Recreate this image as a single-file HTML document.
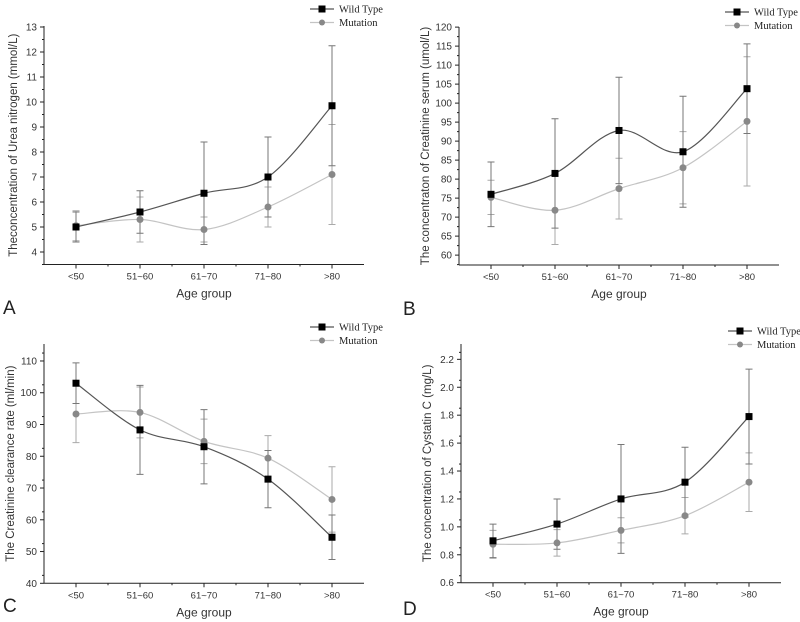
<!DOCTYPE html>
<html><head><meta charset="utf-8"><style>
html,body{margin:0;padding:0;background:#fff;}
svg{display:block;font-family:"Liberation Sans",sans-serif;}
</style></head><body>
<svg id="chart" width="800" height="622" viewBox="0 0 800 622"></svg>
<script>
const categories = ["<50","51~60","61~70","71~80",">80"];
// Panel A - Urea nitrogen
const aWild = [5.0,5.6,6.35,7.0,9.85];
const aWildErr = [0.6,0.85,2.05,1.6,2.4];
const aMut = [5.05,5.3,4.9,5.8,7.1];
const aMutErr = [0.6,0.9,0.5,0.8,2.0];
const aTicks = [4,5,6,7,8,9,10,11,12,13];
// Panel B - Creatinine serum
const bWild = [76,81.5,92.8,87.2,103.8];
const bWildErr = [8.5,14.4,14,14.6,11.8];
const bMut = [75.2,71.8,77.5,83,95.2];
const bMutErr = [4.5,9,8,9.5,17];
const bTicks = [60,65,70,75,80,85,90,95,100,105,110,115,120];
// Panel C - Creatinine clearance
const cWild = [103,88.3,83,72.8,54.5];
const cWildErr = [6.4,14,11.7,9,7];
const cMut = [93.3,93.8,84.7,79.4,66.4];
const cMutErr = [9,8,7,7.1,10.3];
const cTicks = [40,50,60,70,80,90,100,110];
// Panel D - Cystatin C
const dWild = [0.9,1.02,1.2,1.32,1.79];
const dWildErr = [0.12,0.18,0.39,0.25,0.34];
const dMut = [0.875,0.885,0.975,1.08,1.32];
const dMutErr = [0.1,0.095,0.09,0.13,0.21];
const dTicks = [0.6,0.8,1.0,1.2,1.4,1.6,1.8,2.0,2.2];

const NS="http://www.w3.org/2000/svg";
const svg=document.getElementById('chart');
function mk(tag,attrs,parent,txt){const e=document.createElementNS(NS,tag);for(const k in attrs)e.setAttribute(k,attrs[k]);if(txt!==undefined)e.textContent=txt;(parent||svg).appendChild(e);return e;}

function spline(pts){
  let d=`M${pts[0][0]},${pts[0][1]}`;
  for(let i=0;i<pts.length-1;i++){
    const p0=pts[Math.max(0,i-1)],p1=pts[i],p2=pts[i+1],p3=pts[Math.min(pts.length-1,i+2)];
    const c1x=p1[0]+(p2[0]-p0[0])/6,c1y=p1[1]+(p2[1]-p0[1])/6;
    const c2x=p2[0]-(p3[0]-p1[0])/6,c2y=p2[1]-(p3[1]-p1[1])/6;
    d+=` C${c1x},${c1y} ${c2x},${c2y} ${p2[0]},${p2[1]}`;
  }
  return d;
}

function panel(o){
  const g=mk('g',{});
  
  
  const x0=o.ax, x1=o.ax+320;
  const xs=i=>x0+32+64*i;
  const ys=v=>o.yBot-(v-o.vMin)*o.ppu;
  // axes
  const ya=mk('line',{x1:x0,y1:o.yTop,x2:x0,y2:o.yBot,stroke:'#222','stroke-width':1},g);
  
  const xa=mk('line',{x1:x0,y1:o.yBot,x2:x1,y2:o.yBot,stroke:'#222','stroke-width':1},g);
  
  o.ticks.forEach(t=>{
    const y=ys(t);
    mk('line',{x1:x0-4,y1:y,x2:x0,y2:y,stroke:'#222'},g);
    const lb=mk('text',{x:x0-7,y:y+3.5,'font-size':10,'text-anchor':'end',fill:'#333'},g,o.fmt?o.fmt(t):t);
    
  });
  // minor y ticks
  for(let k=0;k<o.ticks.length;k++){const m=o.ticks[k]+o.step/2;if(ys(m)>=o.yTop)mk('line',{x1:x0-2,y1:ys(m),x2:x0,y2:ys(m),stroke:'#222'},g);}
  if(ys(o.ticks[0]-o.step/2)<=o.yBot) mk('line',{x1:x0-2,y1:ys(o.ticks[0]-o.step/2),x2:x0,y2:ys(o.ticks[0]-o.step/2),stroke:'#222'},g);
  categories.forEach((c,i)=>{
    mk('line',{x1:xs(i),y1:o.yBot,x2:xs(i),y2:o.yBot+4,stroke:'#222'},g);
    if(i<4) mk('line',{x1:xs(i)+32,y1:o.yBot,x2:xs(i)+32,y2:o.yBot+2,stroke:'#222'},g);
    const lb=mk('text',{x:xs(i),y:o.yBot+15,'font-size':9.5,'text-anchor':'middle',fill:'#333'},g,c);
    
  });
  const xt=mk('text',{x:x0+160,y:o.yBot+33,'font-size':12,'text-anchor':'middle',fill:'#333'},g,'Age group');
  
  const cy=(o.yTop+o.yBot)/2;
  const yt=mk('text',{x:0,y:0,'font-size':11.5,'text-anchor':'middle',fill:'#333',transform:`translate(${o.ylx},${cy}) rotate(-90)`},g,o.ylabel);
  
  const pl=mk('text',{x:o.lx,y:o.ly,'font-size':19,fill:'#222'},g,o.letter);
  
  // series
  const series=[{v:o.mut,e:o.mutE,line:'#c4c4c4',mark:'#888',kind:'c',nm:'mutation'},{v:o.wild,e:o.wildE,line:'#555',mark:'#000',kind:'s',nm:'wild-type'}];
  series.forEach(s=>{
    s.v.forEach((v,i)=>{
      const x=xs(i),yh=ys(v+s.e[i]),yl=ys(v-s.e[i]);
      const eb=mk('path',{d:`M${x},${yh}V${yl}M${x-3.5},${yh}H${x+3.5}M${x-3.5},${yl}H${x+3.5}`,stroke:s.kind==='s'?'#777':'#aaa','stroke-width':1,fill:'none'},g);
      
    });
  });
  series.forEach(s=>{
    const pts=s.v.map((v,i)=>[xs(i),ys(v)]);
    const ln=mk('path',{d:spline(pts),stroke:s.line,'stroke-width':1.2,fill:'none'},g);
    
    pts.forEach(p=>{
      let m;
      if(s.kind==='s') m=mk('rect',{x:p[0]-3.5,y:p[1]-3.5,width:7,height:7,fill:s.mark},g);
      else m=mk('circle',{cx:p[0],cy:p[1],r:3.5,fill:s.mark},g);
      
    });
  });
  // legend
  const lg=mk('g',{},g);
  
  const L=[['Wild Type','#555','#000','s'],['Mutation','#c4c4c4','#888','c']];
  L.forEach((l,k)=>{
    const y=o.legY+k*13.5;
    mk('line',{x1:o.legX-12,y1:y,x2:o.legX+12,y2:y,stroke:l[1],'stroke-width':1.2},lg);
    if(l[3]==='s') mk('rect',{x:o.legX-3.5,y:y-3.5,width:7,height:7,fill:l[2]},lg);
    else mk('circle',{cx:o.legX,cy:y,r:3,fill:l[2]},lg);
    const t=mk('text',{x:o.legX+17,y:y+3.5,'font-size':10.5,fill:'#222','font-family':'Liberation Serif, serif'},lg,l[0]);
    
  });
}

panel({name:'panel-a-urea',ax:44,yTop:26,yBot:264.5,vMin:3.5,ppu:25,ticks:aTicks,step:1,wild:aWild,wildE:aWildErr,mut:aMut,mutE:aMutErr,ylabel:'Theconcentration of Urea nitrogen (mmol/L)',ylx:17,letter:'A',lx:3,ly:314,legX:322,legY:9});
panel({name:'panel-b-creatinine',ax:459,yTop:27,yBot:265,vMin:57.4,ppu:3.8,ticks:bTicks,step:5,wild:bWild,wildE:bWildErr,mut:bMut,mutE:bMutErr,ylabel:'The concentraton of Creatinine serum (umol/L)',ylx:429,letter:'B',lx:403,ly:315,legX:737,legY:12});
panel({name:'panel-c-clearance',ax:44,yTop:344,yBot:583.3,vMin:40,ppu:3.176,ticks:cTicks,step:5,wild:cWild,wildE:cWildErr,mut:cMut,mutE:cMutErr,ylabel:'The Creatinine clearance rate   (ml/min)',ylx:14,letter:'C',lx:3,ly:612,legX:322,legY:327});
panel({name:'panel-d-cystatin',ax:461,yTop:344,yBot:582.7,vMin:0.6,ppu:139.6,ticks:dTicks,step:0.1,fmt:t=>t.toFixed(1),wild:dWild,wildE:dWildErr,mut:dMut,mutE:dMutErr,ylabel:'The concentration of Cystatin C (mg/L)',ylx:431,letter:'D',lx:403,ly:615,legX:740,legY:331});
</script>
</body></html>
